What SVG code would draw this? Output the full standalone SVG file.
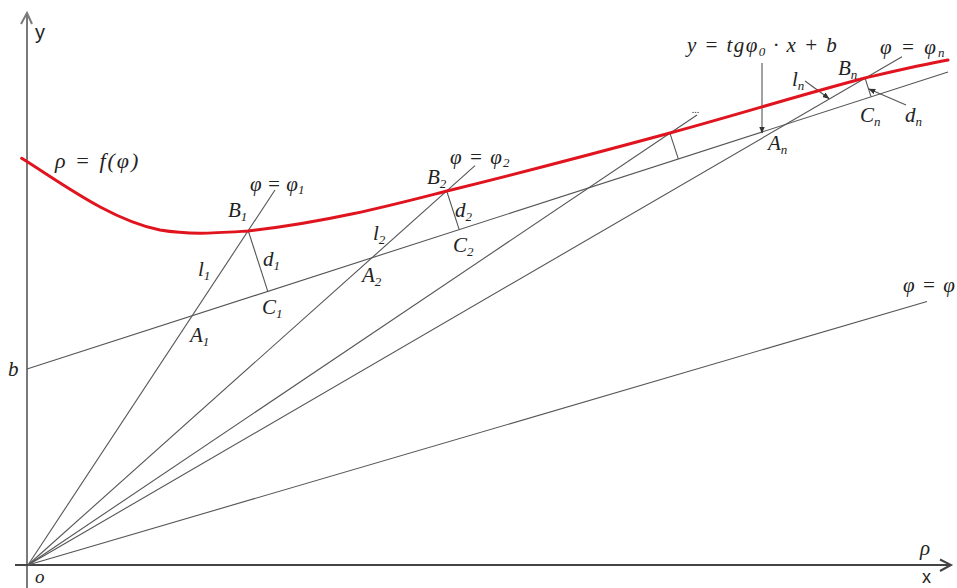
<svg xmlns="http://www.w3.org/2000/svg" width="957" height="588" viewBox="0 0 957 588">
<style>
.ax{stroke:#7a7a7a;stroke-width:2;fill:none}
.ln{stroke:#555;stroke-width:1.1;fill:none}
.curve{stroke:#e0141e;stroke-width:3;fill:none;stroke-linecap:round}
text{font-family:"Liberation Serif","Times New Roman",serif;font-style:italic;font-size:21px;fill:#222}
.s{font-size:13px}
.f{letter-spacing:2px}
.sans{font-family:"Liberation Sans",Arial,sans-serif;font-style:normal}
</style>
<defs>
<marker id="ah" viewBox="0 0 10 10" refX="9" refY="5" markerWidth="7" markerHeight="7" orient="auto-start-reverse" markerUnits="userSpaceOnUse">
<path d="M0,1 L10,5 L0,9 z" fill="#333"/>
</marker>
</defs>
<rect width="957" height="588" fill="#fff"/>

<g id="axes">
<line class="ax" x1="27" y1="588" x2="27" y2="14"/>
<polyline class="ax" points="21,24 27,13 32,24"/>
<line class="ax" x1="15" y1="565" x2="950" y2="565" style="stroke:#444"/>
<polyline class="ax" points="940,559.5 951,565 940,571" style="stroke:#444"/>
</g>

<g id="connectors">
<line class="ln" x1="27" y1="369" x2="948" y2="72"/>
<line class="ln" x1="28" y1="565" x2="275" y2="190"/>
<line class="ln" x1="28" y1="565" x2="475" y2="165.7"/>
<line class="ln" x1="28" y1="565" x2="697" y2="115"/>
<line class="ln" x1="28" y1="565" x2="902" y2="56.8"/>
<line class="ln" x1="28" y1="565" x2="927" y2="301.5"/>
<line class="ln" x1="248.3" y1="231" x2="267.8" y2="291.3"/>
<line class="ln" x1="446.7" y1="191" x2="459.2" y2="229.6"/>
<line class="ln" x1="670" y1="133.3" x2="678.3" y2="158.9"/>
<line class="ln" x1="865" y1="78" x2="871" y2="96.7"/>
<line class="ln" x1="762" y1="63" x2="762" y2="133" marker-end="url(#ah)"/>
<line class="ln" x1="805" y1="81" x2="829" y2="98.5" marker-end="url(#ah)"/>
<line class="ln" x1="906" y1="105" x2="869" y2="89" marker-end="url(#ah)"/>
</g>

<g id="curve">
<path class="curve" d="M21.7,158.3 C60,182 110,220 160,230 C190,235 215,233 248,231 C330,222 400,203 447,191 C520,173 600,152 670,133 C740,114 800,95 865,78 C895,71 920,65 948,60"/>
</g>

<g id="labels">
<text class="sans" x="35" y="39" style="font-size:20px">y</text>
<text x="35" y="583" style="font-size:19px">o</text>
<text x="8" y="376">b</text>
<text x="920" y="555">ρ</text>
<text class="sans" x="922" y="583" style="font-size:18px">x</text>
<text class="f" x="55" y="168" style="font-size:22px">ρ = f(φ)</text>
<text x="250" y="191">φ = φ<tspan class="s" dy="3">1</tspan></text>
<text x="228" y="217">B<tspan class="s" dy="4">1</tspan></text>
<text x="198" y="276">l<tspan class="s" dy="4">1</tspan></text>
<text x="263" y="266">d<tspan class="s" dy="4">1</tspan></text>
<text x="262" y="314">C<tspan class="s" dy="4">1</tspan></text>
<text x="190" y="342">A<tspan class="s" dy="4">1</tspan></text>
<text x="373" y="240">l<tspan class="s" dy="4">2</tspan></text>
<text x="362" y="282">A<tspan class="s" dy="4">2</tspan></text>
<text x="427" y="184">B<tspan class="s" dy="4">2</tspan></text>
<text x="450" y="164" style="letter-spacing:1px">φ = φ<tspan class="s" dy="3">2</tspan></text>
<text x="455" y="217">d<tspan class="s" dy="4">2</tspan></text>
<text x="453" y="252">C<tspan class="s" dy="4">2</tspan></text>
<text x="692" y="113" style="font-size:10px">...</text>
<text x="687" y="52" style="letter-spacing:1.4px">y = tgφ<tspan class="s" dy="4">0</tspan><tspan dy="-4"> · x + b</tspan></text>
<text class="f" x="880" y="54">φ = φ<tspan class="s" dy="3">n</tspan></text>
<text x="838" y="75">B<tspan class="s" dy="4">n</tspan></text>
<text x="792" y="86">l<tspan class="s" dy="4">n</tspan></text>
<text x="768" y="150">A<tspan class="s" dy="4">n</tspan></text>
<text x="860" y="122">C<tspan class="s" dy="4">n</tspan></text>
<text x="905" y="122">d<tspan class="s" dy="4">n</tspan></text>
<text x="903" y="292" style="letter-spacing:1px">φ = φ</text>
</g>
</svg>
